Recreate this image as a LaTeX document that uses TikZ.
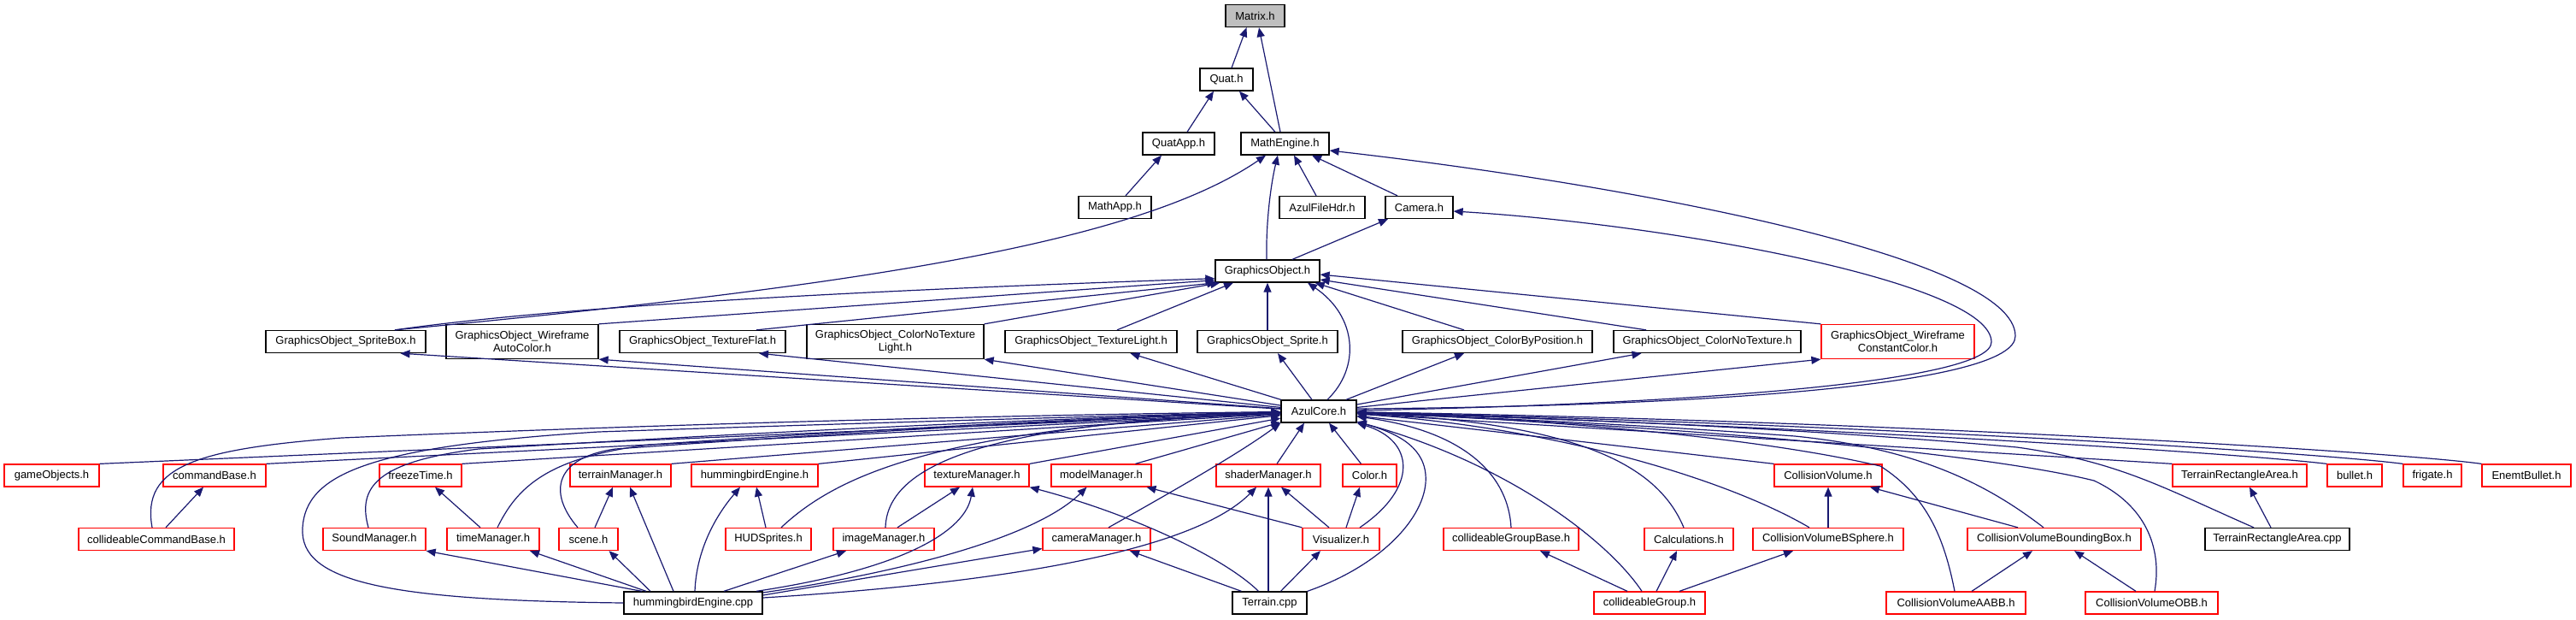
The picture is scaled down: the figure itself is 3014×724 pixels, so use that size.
\documentclass[tikz,border=0pt]{standalone}
\usepackage{fontspec}
\setmainfont{Liberation Sans}
\usetikzlibrary{arrows.meta}
\definecolor{edgec}{HTML}{191970}
\definecolor{redc}{HTML}{FF0000}
\definecolor{matc}{HTML}{BFBFBF}
\newcommand\dgfont{\fontsize{13pt}{15pt}\selectfont}
\begin{document}
\begin{tikzpicture}[x=1pt,y=-1pt,
 bx/.style={draw=black, line width=1.3pt, fill=white, inner sep=0pt, minimum height=26pt, font=\dgfont, text=black},
 rb/.style={bx, draw=redc},
 two/.style={minimum height=40pt, align=center},
 e/.style={draw=edgec, line width=1.2pt, -{Triangle[length=11pt,width=9pt]}}]
\useasboundingbox (0,0) rectangle (3014,724);
% row 0-4
\node[bx, fill=matc, minimum width=69pt] (Matrix) at (1468.5,18.5) {Matrix.h};
\node[bx, minimum width=62pt] (Quat) at (1435,93) {Quat.h};
\node[bx, minimum width=84pt] (QuatApp) at (1379,168) {QuatApp.h};
\node[bx, minimum width=103pt] (ME) at (1503.5,168) {MathEngine.h};
\node[bx, minimum width=85pt] (MathApp) at (1304.5,242.5) {MathApp.h};
\node[bx, minimum width=100pt] (AFH) at (1547,242.5) {AzulFileHdr.h};
\node[bx, minimum width=79pt] (Camera) at (1660.5,242.5) {Camera.h};
\node[bx, minimum width=122pt] (GO) at (1483,317) {GraphicsObject.h};
% row 5
\node[bx, minimum width=187pt] (SpriteBox) at (404.5,399.5) {GraphicsObject\_SpriteBox.h};
\node[bx, two, minimum width=178pt] (WireAuto) at (611,399.5) {GraphicsObject\_Wireframe\\AutoColor.h};
\node[bx, minimum width=194pt] (TextureFlat) at (822,399.5) {GraphicsObject\_TextureFlat.h};
\node[bx, two, minimum width=207pt] (CNTL) at (1047.5,399.5) {GraphicsObject\_ColorNoTexture\\Light.h};
\node[bx, minimum width=201pt] (TextureLight) at (1276.5,399.5) {GraphicsObject\_TextureLight.h};
\node[bx, minimum width=164pt] (Sprite) at (1483,399.5) {GraphicsObject\_Sprite.h};
\node[bx, minimum width=222pt] (CBP) at (1752,399.5) {GraphicsObject\_ColorByPosition.h};
\node[bx, minimum width=219pt] (CNT) at (1997.5,399.5) {GraphicsObject\_ColorNoTexture.h};
\node[rb, two, minimum width=179pt] (WireConst) at (2220.5,399.5) {GraphicsObject\_Wireframe\\ConstantColor.h};
% row 6
\node[bx, minimum width=88pt] (AzulCore) at (1543,481) {AzulCore.h};
% row 7
\node[rb, minimum width=111pt] (gameObjects) at (60.5,556) {gameObjects.h};
\node[rb, minimum width=120pt] (commandBase) at (251,556) {commandBase.h};
\node[rb, minimum width=96pt] (freezeTime) at (492,556) {freezeTime.h};
\node[rb, minimum width=118pt] (terrainM) at (726,556) {terrainManager.h};
\node[rb, minimum width=148pt] (hbe) at (883,556) {hummingbirdEngine.h};
\node[rb, minimum width=122pt] (texM) at (1143,556) {textureManager.h};
\node[rb, minimum width=117pt] (modelM) at (1288.5,556) {modelManager.h};
\node[rb, minimum width=122pt] (shaderM) at (1484,556) {shaderManager.h};
\node[rb, minimum width=63pt] (Color) at (1602.5,556) {Color.h};
\node[rb, minimum width=126pt] (CV) at (2139,556) {CollisionVolume.h};
\node[rb, minimum width=157pt] (TRAh) at (2620.5,556) {TerrainRectangleArea.h};
\node[rb, minimum width=64pt] (bullet) at (2755,556) {bullet.h};
\node[rb, minimum width=68pt] (frigate) at (2846,556) {frigate.h};
\node[rb, minimum width=104pt] (Enemt) at (2956,556) {EnemtBullet.h};
% row 8
\node[rb, minimum width=182pt] (cCB) at (183,630.5) {collideableCommandBase.h};
\node[rb, minimum width=120pt] (SoundM) at (438,630.5) {SoundManager.h};
\node[rb, minimum width=108pt] (tM) at (577,630.5) {timeManager.h};
\node[rb, minimum width=69pt] (scene) at (688.5,630.5) {scene.h};
\node[rb, minimum width=100pt] (HUD) at (899,630.5) {HUDSprites.h};
\node[rb, minimum width=118pt] (iM) at (1034,630.5) {imageManager.h};
\node[rb, minimum width=126pt] (cM) at (1283,630.5) {cameraManager.h};
\node[rb, minimum width=90pt] (Vis) at (1569,630.5) {Visualizer.h};
\node[rb, minimum width=158pt] (cGB) at (1768,630.5) {collideableGroupBase.h};
\node[rb, minimum width=104pt] (Calc) at (1976,630.5) {Calculations.h};
\node[rb, minimum width=176pt] (CVBS) at (2139,630.5) {CollisionVolumeBSphere.h};
\node[rb, minimum width=203pt] (CVBB) at (2403.5,630.5) {CollisionVolumeBoundingBox.h};
\node[bx, minimum width=169pt] (TRAcpp) at (2664.5,630.5) {TerrainRectangleArea.cpp};
% row 9
\node[bx, minimum width=162pt] (cpp) at (811,705) {hummingbirdEngine.cpp};
\node[bx, minimum width=87pt] (Terrain) at (1485.5,705) {Terrain.cpp};
\node[rb, minimum width=130pt] (cG) at (1930,705) {collideableGroup.h};
\node[rb, minimum width=163pt] (AABB) at (2288.5,705) {CollisionVolumeAABB.h};
\node[rb, minimum width=155pt] (OBB) at (2517.5,705) {CollisionVolumeOBB.h};

% ---- top edges
\draw[e] ([xshift=6pt]Quat.north) -- ([xshift=-10pt]Matrix.south);
\draw[e] ([xshift=-5.5pt]ME.north) -- ([xshift=4.5pt]Matrix.south);
\draw[e] ([xshift=10pt]QuatApp.north) -- ([xshift=-15pt]Quat.south);
\draw[e] ([xshift=-11.5pt]ME.north) -- ([xshift=15pt]Quat.south);
\draw[e] ([xshift=12.5pt]MathApp.north) -- ([xshift=-20pt]QuatApp.south);
\draw[e] ([xshift=-7pt]AFH.north) -- ([xshift=10.5pt]ME.south);
\draw[e] ([xshift=-25.5pt]Camera.north) -- ([xshift=31.5pt]ME.south);
\draw[e] ([xshift=-1pt]GO.north) .. controls (1481,260) and (1487,215) .. ([xshift=-8.5pt]ME.south);
\draw[e] ([xshift=57.5pt]SpriteBox.north) .. controls (1000,335) and (1330,285) .. ([xshift=-22.5pt]ME.south);
\draw[e] ([xshift=29pt]GO.north) -- ([xshift=-36.5pt]Camera.south);
\draw[e] ([yshift=3pt]AzulCore.east) .. controls (2000,475) and (2358,450) .. (2358,393) .. controls (2358,300) and (1900,215) .. ([yshift=-8pt]ME.east);
\draw[e] ([yshift=1pt]AzulCore.east) .. controls (2000,472) and (2330,445) .. (2330,400) .. controls (2330,330) and (1950,262) .. ([yshift=-4.5pt]Camera.east);

% ---- GraphicsObject children
\draw[e] ([xshift=57.5pt]SpriteBox.north) .. controls (700,352) and (1150,335) .. ([yshift=5pt]GO.south west);
\draw[e] (WireAuto.north east) -- ([yshift=3pt]GO.south west);
\draw[e] ([xshift=63pt]TextureFlat.north) -- ([xshift=2pt]GO.south west);
\draw[e] (CNTL.north east) -- ([xshift=6pt]GO.south west);
\draw[e] ([xshift=30.5pt]TextureLight.north) -- ([xshift=-40pt]GO.south);
\draw[e] (Sprite.north) -- (GO.south);
\draw[e] ([xshift=-39pt]CBP.north) -- ([xshift=-6pt]GO.south east);
\draw[e] ([xshift=-71.5pt]CNT.north) -- ([yshift=-10pt]GO.east);
\draw[e] (WireConst.north west) -- ([yshift=-4pt]GO.east);
\draw[e] ([xshift=10pt]AzulCore.north) .. controls (1592,430) and (1588,370) .. ([xshift=47pt]GO.south);

% ---- AzulCore -> GraphicsObject_*
\draw[e] (AzulCore) -- ([xshift=64pt]SpriteBox.south);
\draw[e] (AzulCore) -- (WireAuto.south east);
\draw[e] (AzulCore) -- ([xshift=66pt]TextureFlat.south);
\draw[e] (AzulCore) -- (CNTL.south east);
\draw[e] (AzulCore) -- ([xshift=46pt]TextureLight.south);
\draw[e] ([xshift=-8pt]AzulCore.north) -- ([xshift=12pt]Sprite.south);
\draw[e] ([xshift=32pt]AzulCore.north) -- ([xshift=-39pt]CBP.south);
\draw[e] (AzulCore) -- ([xshift=-77pt]CNT.south);
\draw[e] (AzulCore) -- (WireConst.south west);

% ---- row 7 -> AzulCore
\draw[e] (gameObjects.north east) -- (AzulCore);
\draw[e] (commandBase.north east) -- (AzulCore);
\draw[e] (freezeTime.north east) -- (AzulCore);
\draw[e] (terrainM.north east) -- (AzulCore);
\draw[e] (hbe.north east) -- (AzulCore);
\draw[e] (texM.north east) -- (AzulCore);
\draw[e] ([xshift=40pt]modelM.north) -- (AzulCore);
\draw[e] ([xshift=10pt]shaderM.north) -- ([xshift=-17pt]AzulCore.south);
\draw[e] ([xshift=-10pt]Color.north) -- ([xshift=12pt]AzulCore.south);
\draw[e] (CV.north west) -- (AzulCore);
\draw[e] (TRAh.north west) -- (AzulCore);
\draw[e] (bullet.north west) .. controls (2600,528) and (2100,498) .. (AzulCore);
\draw[e] (frigate.north west) .. controls (2700,528) and (2150,495) .. (AzulCore);
\draw[e] (Enemt.north west) .. controls (2800,528) and (2200,492) .. (AzulCore);

% ---- row 8 -> AzulCore
\draw[e] ([xshift=-5pt]cCB.north) .. controls (165,545) and (230,525) .. (400,512) .. controls (800,495) and (1200,485) .. (AzulCore);
\draw[e] ([xshift=-7pt]SoundM.north) .. controls (418,570) and (440,540) .. (560,525) .. controls (900,505) and (1200,490) .. (AzulCore);
\draw[e] ([xshift=5pt]tM.north) .. controls (605,570) and (640,535) .. (760,520) .. controls (1050,500) and (1300,488) .. (AzulCore);
\draw[e] ([xshift=-12.5pt]scene.north) .. controls (640,575) and (650,535) .. (720,525) .. controls (1000,505) and (1300,488) .. (AzulCore);
\draw[e] ([xshift=15pt]HUD.north) .. controls (980,555) and (1100,500) .. (AzulCore);
\draw[e] ([xshift=2pt]iM.north) .. controls (1038,545) and (1150,495) .. (AzulCore);
\draw[e] ([xshift=14pt]cM.north) .. controls (1380,570) and (1450,530) .. (AzulCore.south west);
\draw[e] ([xshift=22pt]Vis.north) .. controls (1660,570) and (1655,515) .. (AzulCore.south east);
\draw[e] (cGB.north) .. controls (1765,560) and (1720,505) .. (AzulCore);
\draw[e] ([xshift=-6pt]Calc.north) .. controls (1940,545) and (1850,495) .. (AzulCore);
\draw[e] ([xshift=-22pt]CVBS.north) .. controls (2020,560) and (1820,500) .. (AzulCore);
\draw[e] ([xshift=-12.5pt]CVBB.north) .. controls (2330,570) and (2250,525) .. (2100,510) .. controls (1900,495) and (1700,487) .. (AzulCore);
\draw[e] ([xshift=-27.5pt]TRAcpp.north) .. controls (2530,570) and (2480,540) .. (2360,523) .. controls (2100,500) and (1800,488) .. (AzulCore);

% ---- row 9 -> AzulCore
\draw[e] (cpp.west) .. controls (450,702) and (350,680) .. (354,617) .. controls (358,555) and (430,522) .. (700,505) .. controls (1000,495) and (1300,486) .. (AzulCore);
\draw[e] (Terrain.north east) .. controls (1620,660) and (1672,600) .. (1668,555) .. controls (1665,520) and (1630,505) .. (AzulCore);
\draw[e] ([xshift=-9pt]cG.north) .. controls (1880,630) and (1760,540) .. (AzulCore);
\draw[e] ([xshift=-1.5pt]AABB.north) .. controls (2275,630) and (2255,580) .. (2200,545) .. controls (2050,510) and (1800,490) .. (AzulCore);
\draw[e] ([xshift=3.5pt]OBB.north) .. controls (2530,640) and (2510,590) .. (2450,562) .. controls (2300,525) and (1900,495) .. (AzulCore);

% ---- other lower edges
\draw[e] ([xshift=11pt]cCB.north) -- ([xshift=-13pt]commandBase.south);
\draw[e] ([xshift=-15pt]tM.north) -- ([xshift=17pt]freezeTime.south);
\draw[e] ([xshift=7.5pt]scene.north) -- ([xshift=-9pt]terrainM.south);
\draw[e] ([xshift=-60pt]cpp.north) -- (SoundM.south east);
\draw[e] ([xshift=-55pt]cpp.north) -- ([xshift=43pt]tM.south);
\draw[e] ([xshift=-50pt]cpp.north) -- ([xshift=24pt]scene.south);
\draw[e] ([xshift=-23pt]cpp.north) -- ([xshift=11pt]terrainM.south);
\draw[e] ([xshift=2pt]cpp.north) .. controls (815,640) and (840,600) .. ([xshift=-17pt]hbe.south);
\draw[e] ([xshift=-3pt]HUD.north) -- ([xshift=2pt]hbe.south);
\draw[e] ([xshift=36pt]cpp.north) -- ([xshift=-44pt]iM.south);
\draw[e] ([xshift=16pt]iM.north) -- ([xshift=-20pt]texM.south);
\draw[e] ([xshift=74pt]cpp.north) .. controls (1060,665) and (1130,620) .. ([xshift=-5pt]texM.south);
\draw[e] ([yshift=12pt]cpp.east) .. controls (1050,670) and (1210,630) .. ([xshift=-17pt]modelM.south);
\draw[e] ([yshift=9pt]cpp.east) -- ([yshift=-11pt]cM.west);
\draw[e] ([yshift=6pt]cpp.east) .. controls (1200,680) and (1400,640) .. ([xshift=-14pt]shaderM.south);
\draw[e] ([xshift=-13pt]Terrain.north) .. controls (1430,650) and (1320,600) .. (texM.south east);
\draw[e] ([xshift=-33pt]Terrain.north) -- ([xshift=39pt]cM.south);
\draw[e] ([xshift=-1.5pt]Terrain.north) -- (shaderM.south);
\draw[e] ([xshift=13pt]Terrain.north) -- ([xshift=-24pt]Vis.south);
\draw[e] ([xshift=-14pt]Vis.north) -- ([xshift=15pt]shaderM.south);
\draw[e] ([xshift=6pt]Vis.north) -- ([xshift=-11.5pt]Color.south);
\draw[e] (Vis.north west) -- ([xshift=53pt]modelM.south);
\draw[e] ([xshift=-26pt]cG.north) -- ([xshift=34pt]cGB.south);
\draw[e] ([xshift=8pt]cG.north) -- ([xshift=-14pt]Calc.south);
\draw[e] ([xshift=35pt]cG.north) -- ([xshift=-41pt]CVBS.south);
\draw[e] (CVBS.north) -- (CV.south);
\draw[e] ([xshift=-42.5pt]CVBB.north) -- ([xshift=49pt]CV.south);
\draw[e] ([xshift=18.5pt]AABB.north) -- ([xshift=-25.5pt]CVBB.south);
\draw[e] ([xshift=-18.5pt]OBB.north) -- ([xshift=23.5pt]CVBB.south);
\draw[e] ([xshift=-7.5pt]TRAcpp.north) -- ([xshift=11.5pt]TRAh.south);
\end{tikzpicture}
\end{document}
